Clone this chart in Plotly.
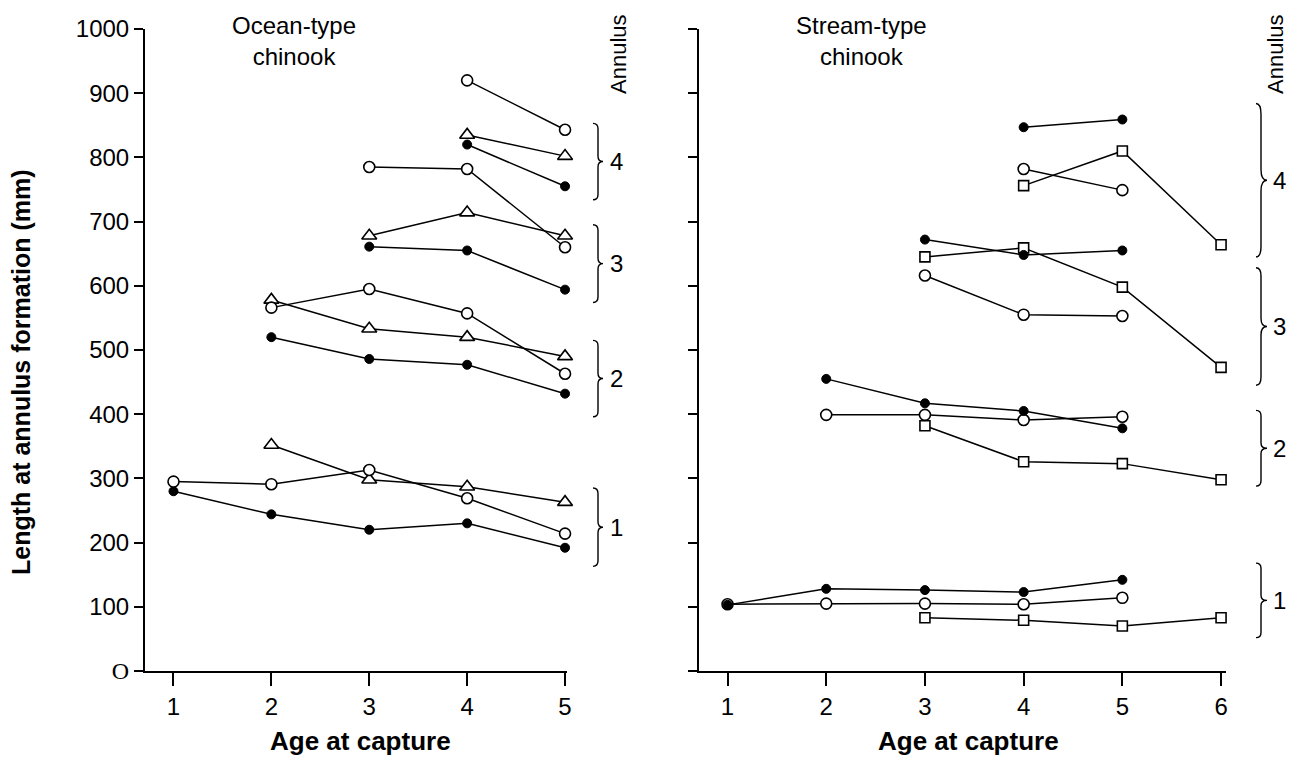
import plotly.graph_objects as go

# ---------------- DATA ----------------
age_ticks = [1, 2, 3, 4, 5]
age_ticks_stream = [1, 2, 3, 4, 5, 6]
length_ticks = [0, 100, 200, 300, 400, 500, 600, 700, 800, 900, 1000]
length_ticktext = ["<span style='font-family:Liberation Serif'>O</span>", "100", "200", "300",
                   "400", "500", "600", "700", "800", "900", "1000"]

# Ocean-type chinook (left panel)
ocean_a4_circle_hi_x = [4, 5]
ocean_a4_circle_hi_y = [920, 843]
ocean_a4_triangle_x = [4, 5]
ocean_a4_triangle_y = [835, 802]
ocean_a4_filled_x = [4, 5]
ocean_a4_filled_y = [820, 755]
ocean_a4_circle_x = [3, 4, 5]
ocean_a4_circle_y = [785, 782, 660]
ocean_a3_triangle_x = [3, 4, 5]
ocean_a3_triangle_y = [678, 714, 678]
ocean_a3_filled_x = [3, 4, 5]
ocean_a3_filled_y = [661, 655, 594]
ocean_a2_circle_x = [2, 3, 4, 5]
ocean_a2_circle_y = [566, 595, 557, 463]
ocean_a2_triangle_x = [2, 3, 4, 5]
ocean_a2_triangle_y = [578, 533, 520, 490]
ocean_a2_filled_x = [2, 3, 4, 5]
ocean_a2_filled_y = [520, 486, 477, 432]
ocean_a1_triangle_x = [2, 3, 4, 5]
ocean_a1_triangle_y = [352, 298, 287, 263]
ocean_a1_circle_x = [1, 2, 3, 4, 5]
ocean_a1_circle_y = [295, 291, 313, 269, 214]
ocean_a1_filled_x = [1, 2, 3, 4, 5]
ocean_a1_filled_y = [280, 244, 220, 230, 192]

# Stream-type chinook (right panel)
stream_a4_filled_x = [4, 5]
stream_a4_filled_y = [847, 859]
stream_a4_circle_x = [4, 5]
stream_a4_circle_y = [782, 749]
stream_a4_square_x = [4, 5, 6]
stream_a4_square_y = [756, 810, 664]
stream_a3_filled_x = [3, 4, 5]
stream_a3_filled_y = [672, 648, 655]
stream_a3_square_x = [3, 4, 5, 6]
stream_a3_square_y = [645, 659, 598, 473]
stream_a3_circle_x = [3, 4, 5]
stream_a3_circle_y = [616, 555, 553]
stream_a2_filled_x = [2, 3, 4, 5]
stream_a2_filled_y = [455, 417, 405, 378]
stream_a2_circle_x = [2, 3, 4, 5]
stream_a2_circle_y = [399, 399, 391, 396]
stream_a2_square_x = [3, 4, 5, 6]
stream_a2_square_y = [382, 326, 323, 298]
stream_a1_circle_x = [1, 2, 3, 4, 5]
stream_a1_circle_y = [104, 105, 105, 104, 114]
stream_a1_filled_x = [1, 2, 3, 4, 5]
stream_a1_filled_y = [103, 128, 126, 123, 142]
stream_a1_square_x = [3, 4, 5, 6]
stream_a1_square_y = [83, 79, 70, 83]

# Annulus bracket spans (mm) and labels
annulus_labels = ["4", "3", "2", "1"]
ocean_bracket_lo = [734, 574, 396, 163]
ocean_bracket_hi = [853, 695, 515, 285]
stream_bracket_lo = [645, 445, 288, 52]
stream_bracket_hi = [884, 628, 406, 168]

# ---------------- STYLE / LAYOUT ----------------
W, H = 1290, 758
FONT = "Liberation Sans, Arial, sans-serif"


def px(x):
    return x / W


def py(y):
    return 1 - y / H


STYLES = {
    "filled": dict(symbol="circle", size=9, color="black", line=dict(color="black", width=1)),
    "circle": dict(symbol="circle", size=11, color="white", line=dict(color="black", width=1.6)),
    "triangle": dict(symbol="triangle-up", size=13, color="white", line=dict(color="black", width=1.6)),
    "square": dict(symbol="square", size=10, color="white", line=dict(color="black", width=1.6)),
}

fig = go.Figure()


def add(x, y, kind, xa, ya):
    fig.add_trace(go.Scatter(
        x=x, y=y, mode="lines+markers", xaxis=xa, yaxis=ya,
        line=dict(color="black", width=1.5), marker=STYLES[kind],
        showlegend=False, cliponaxis=False, hoverinfo="x+y"))


ocean = [
    (ocean_a4_circle_hi_x, ocean_a4_circle_hi_y, "circle"),
    (ocean_a4_filled_x, ocean_a4_filled_y, "filled"),
    (ocean_a4_triangle_x, ocean_a4_triangle_y, "triangle"),
    (ocean_a4_circle_x, ocean_a4_circle_y, "circle"),
    (ocean_a3_filled_x, ocean_a3_filled_y, "filled"),
    (ocean_a3_triangle_x, ocean_a3_triangle_y, "triangle"),
    (ocean_a2_filled_x, ocean_a2_filled_y, "filled"),
    (ocean_a2_triangle_x, ocean_a2_triangle_y, "triangle"),
    (ocean_a2_circle_x, ocean_a2_circle_y, "circle"),
    (ocean_a1_filled_x, ocean_a1_filled_y, "filled"),
    (ocean_a1_triangle_x, ocean_a1_triangle_y, "triangle"),
    (ocean_a1_circle_x, ocean_a1_circle_y, "circle"),
]
for x, y, k in ocean:
    add(x, y, k, "x", "y")

stream = [
    (stream_a4_filled_x, stream_a4_filled_y, "filled"),
    (stream_a4_circle_x, stream_a4_circle_y, "circle"),
    (stream_a4_square_x, stream_a4_square_y, "square"),
    (stream_a3_circle_x, stream_a3_circle_y, "circle"),
    (stream_a3_square_x, stream_a3_square_y, "square"),
    (stream_a3_filled_x, stream_a3_filled_y, "filled"),
    (stream_a2_square_x, stream_a2_square_y, "square"),
    (stream_a2_circle_x, stream_a2_circle_y, "circle"),
    (stream_a2_filled_x, stream_a2_filled_y, "filled"),
    (stream_a1_square_x, stream_a1_square_y, "square"),
    (stream_a1_circle_x, stream_a1_circle_y, "circle"),
    (stream_a1_filled_x, stream_a1_filled_y, "filled"),
]
for x, y, k in stream:
    add(x, y, k, "x2", "y2")

axis_common = dict(showline=True, linecolor="black", linewidth=2, ticks="outside",
                   tickcolor="black", tickwidth=2, showgrid=False, zeroline=False,
                   automargin=False,
                   tickfont=dict(family=FONT, size=24, color="black"))

fig.update_layout(
    width=W, height=H, autosize=False,
    margin=dict(l=0, r=0, t=0, b=0, pad=0),
    paper_bgcolor="white", plot_bgcolor="white",
    font=dict(family=FONT, color="black"),
    xaxis=dict(domain=[px(145), px(567)], range=[0.709, 5.02], tickvals=age_ticks,
               ticklen=13, anchor="y", **axis_common),
    yaxis=dict(domain=[py(671), py(29)], range=[0, 1000], tickvals=length_ticks,
               ticktext=length_ticktext, ticklen=9, anchor="x", **axis_common),
    xaxis2=dict(domain=[px(699), px(1226)], range=[0.711, 6.05], tickvals=age_ticks_stream,
                ticklen=13, anchor="y2", **axis_common),
    yaxis2=dict(domain=[py(671), py(29)], range=[0, 1000], tickvals=length_ticks,
                showticklabels=False, ticklen=9, anchor="x2", **axis_common),
)

ann = []
txt = dict(family=FONT, size=24, color="black")
bold_t = dict(family=FONT, size=26, color="black")
bold_y = dict(family=FONT, size=25, color="black")
ann.append(dict(text="<b>Length at annulus formation (mm)</b>", x=px(21), y=py(372),
                xref="paper", yref="paper", xanchor="center", yanchor="middle",
                textangle=-90, showarrow=False, font=bold_y))
ann.append(dict(text="<b>Age at capture</b>", x=px(360), y=0, xref="paper",
                yref="paper", xanchor="center", yanchor="bottom", showarrow=False, font=bold_t))
ann.append(dict(text="<b>Age at capture</b>", x=px(968), y=0, xref="paper",
                yref="paper", xanchor="center", yanchor="bottom", showarrow=False, font=bold_t))
ann.append(dict(text="Ocean-type<br>chinook", x=px(294), y=py(41), xref="paper", yref="paper",
                xanchor="center", yanchor="middle", showarrow=False, font=txt, align="center"))
ann.append(dict(text="Stream-type<br>chinook", x=px(861), y=py(41), xref="paper", yref="paper",
                xanchor="center", yanchor="middle", showarrow=False, font=txt, align="center"))
ann.append(dict(text="Annulus", x=px(618), y=py(54), xref="paper", yref="paper",
                xanchor="center", yanchor="middle", textangle=-90, showarrow=False,
                font=dict(family=FONT, size=22, color="black")))
ann.append(dict(text="Annulus", x=px(1275), y=py(54), xref="paper", yref="paper",
                xanchor="center", yanchor="middle", textangle=-90, showarrow=False,
                font=dict(family=FONT, size=22, color="black")))

shapes = []


def brace(lo, hi, x_hook, x_spine, x_tip, yref):
    d = (hi - lo) * 0.07
    m = (lo + hi) / 2
    xh, xs, xt = px(x_hook), px(x_spine), px(x_tip)
    path = (f"M {xh},{hi} Q {xs},{hi} {xs},{hi - d} L {xs},{m + d} "
            f"Q {xs},{m} {xt},{m} Q {xs},{m} {xs},{m - d} L {xs},{lo + d} "
            f"Q {xs},{lo} {xh},{lo}")
    shapes.append(dict(type="path", path=path, xref="paper", yref=yref,
                       line=dict(color="black", width=1.4)))


for lab, lo, hi in zip(annulus_labels, ocean_bracket_lo, ocean_bracket_hi):
    brace(lo, hi, 593, 598, 603, "y")
    ann.append(dict(text=lab, x=px(616), y=(lo + hi) / 2, xref="paper", yref="y",
                    xanchor="center", yanchor="middle", showarrow=False,
                    font=dict(family=FONT, size=24, color="black")))
for lab, lo, hi in zip(annulus_labels, stream_bracket_lo, stream_bracket_hi):
    brace(lo, hi, 1256, 1261, 1267, "y2")
    ann.append(dict(text=lab, x=px(1279), y=(lo + hi) / 2, xref="paper", yref="y2",
                    xanchor="center", yanchor="middle", showarrow=False,
                    font=dict(family=FONT, size=24, color="black")))

fig.update_layout(annotations=ann, shapes=shapes)
fig.write_html("out.html", config={"displayModeBar": False},
               post_script="document.body.style.margin='0';document.body.style.overflow='hidden';")
